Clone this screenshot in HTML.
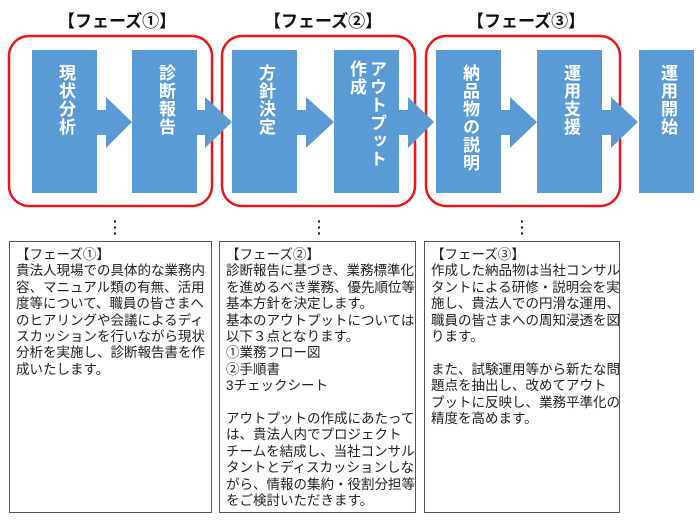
<!DOCTYPE html>
<html><head><meta charset="utf-8"><style>
body{margin:0;background:#fff;width:700px;height:528px;position:relative;overflow:hidden;font-family:"Liberation Sans","Noto Sans CJK JP",sans-serif}
.hd{position:absolute;top:7px;font-weight:bold;font-size:17px;color:#111;white-space:nowrap}
.bt{position:absolute;writing-mode:vertical-rl;color:#fff;font-weight:bold;font-size:17px;line-height:20px;letter-spacing:1px}
.box{position:absolute;top:241px;height:272px;border:1px solid #555;box-sizing:border-box;padding:5px 0 0 6px;font-size:13.5px;line-height:16.4px;color:#222;white-space:nowrap;overflow:hidden}
.dot{position:absolute;top:218px;font-weight:bold;font-size:14px;line-height:6px;color:#111}
</style></head><body>
<svg width="700" height="528" style="position:absolute;left:0;top:0">
<g fill="none" stroke="#e8161b" stroke-width="2.5">
<rect x="9" y="36" width="203" height="170" rx="20"/>
<rect x="222" y="36" width="193" height="170" rx="20"/>
<rect x="426" y="36" width="194" height="170" rx="20"/>
</g>
<g fill="#5b9bd5">
<rect x="32" y="50" width="65" height="143"/>
<rect x="132" y="50" width="65" height="143"/>
<rect x="232" y="50" width="65" height="143"/>
<rect x="334" y="50" width="65" height="143"/>
<rect x="436" y="50" width="65" height="143"/>
<rect x="537" y="50" width="65" height="143"/>
<rect x="639" y="50" width="55" height="143"/>
<polygon points="96,110 106,110 106,97 132,122 106,148 106,135 96,135"/>
<polygon points="196,110 205,110 205,97 232,122 205,148 205,135 196,135"/>
<polygon points="296,110 306,110 306,97 334,122 306,148 306,135 296,135"/>
<polygon points="398,110 408,110 408,97 434,122 408,148 408,135 398,135"/>
<polygon points="500,110 510,110 510,97 537,122 510,148 510,135 500,135"/>
<polygon points="601,110 611,110 611,97 638,122 611,148 611,135 601,135"/>
</g>
</svg>
<div class="hd" style="left:58px">【フェーズ①】</div>
<div class="hd" style="left:264px">【フェーズ②】</div>
<div class="hd" style="left:467px">【フェーズ③】</div>
<div class="bt" style="left:55px;top:64px">現状分析</div>
<div class="bt" style="left:155px;top:64px">診断報告</div>
<div class="bt" style="left:255px;top:64px">方針決定</div>
<div class="bt" style="left:346px;top:60px;height:110px">アウトプット作成</div>
<div class="bt" style="left:459px;top:64px">納品物の説明</div>
<div class="bt" style="left:560px;top:64px">運用支援</div>
<div class="bt" style="left:657px;top:64px">運用開始</div>
<div class="dot" style="left:113px">·<br>·<br>·</div>
<div class="dot" style="left:317px">·<br>·<br>·</div>
<div class="dot" style="left:520px">·<br>·<br>·</div>
<div class="box" style="left:9px;width:203px">【フェーズ①】<br>貴法人現場での具体的な業務内<br>容、マニュアル類の有無、活用<br>度等について、職員の皆さまへ<br>のヒアリングや会議によるディ<br>スカッションを行いながら現状<br>分析を実施し、診断報告書を作<br>成いたします。</div>
<div class="box" style="left:219px;width:197px">【フェーズ②】<br>診断報告に基づき、業務標準化<br>を進めるべき業務、優先順位等<br>基本方針を決定します。<br>基本のアウトプットについては、<br>以下３点となります。<br>①業務フロー図<br>②手順書<br>3チェックシート<br><br>アウトプットの作成にあたって<br>は、貴法人内でプロジェクト<br>チームを結成し、当社コンサル<br>タントとディスカッションしな<br>がら、情報の集約・役割分担等<br>をご検討いただきます。</div>
<div class="box" style="left:424px;width:196px">【フェーズ③】<br>作成した納品物は当社コンサル<br>タントによる研修・説明会を実<br>施し、貴法人での円滑な運用、<br>職員の皆さまへの周知浸透を図<br>ります。<br><br>また、試験運用等から新たな問<br>題点を抽出し、改めてアウト<br>プットに反映し、業務平準化の<br>精度を高めます。</div>
</body></html>
